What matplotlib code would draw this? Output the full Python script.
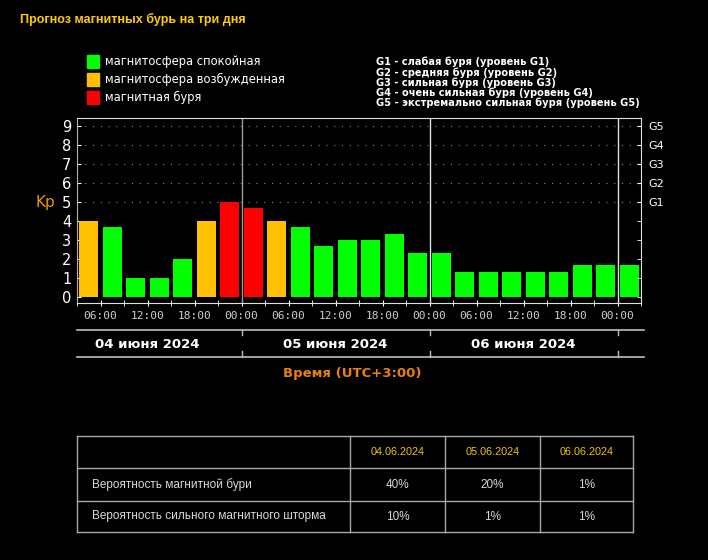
import matplotlib
matplotlib.use('Agg')
import matplotlib.pyplot as plt
from matplotlib.lines import Line2D
from matplotlib.patches import Rectangle
from matplotlib.transforms import blended_transform_factory

W, H = 708, 560

# --- данные ---
# начало 3-часовых интервалов (часы от 04.06 00:00, UTC+3)
start_hours = list(range(3, 75, 3))
kp = [4, 3.67, 1, 1, 2, 4, 5,
      4.67, 4, 3.67, 2.67, 3, 3, 3.33, 2.33,
      2.33, 1.33, 1.33, 1.33, 1.33, 1.33, 1.67, 1.67, 1.67]
# q - спокойная, a - возбужденная, s - буря
status = ['a', 'q', 'q', 'q', 'q', 'a', 's',
          's', 'a', 'q', 'q', 'q', 'q', 'q', 'q',
          'q', 'q', 'q', 'q', 'q', 'q', 'q', 'q', 'q']
status_colors = {'q': '#00ff00', 'a': '#ffc000', 's': '#ff0000'}
legend_labels = ['магнитосфера спокойная', 'магнитосфера возбужденная', 'магнитная буря']
legend_keys = ['q', 'a', 's']

g_levels = [5, 6, 7, 8, 9]
g_labels = ['G1', 'G2', 'G3', 'G4', 'G5']
g_desc = ['G1 - слабая буря (уровень G1)',
          'G2 - средняя буря (уровень G2)',
          'G3 - сильная буря (уровень G3)',
          'G4 - очень сильная буря (уровень G4)',
          'G5 - экстремально сильная буря (уровень G5)']

hour_ticks = list(range(6, 75, 6))
hour_labels = ['06:00', '12:00', '18:00', '00:00'] * 3
day_starts = [0, 24, 48]
day_labels = ['04 июня 2024', '05 июня 2024', '06 июня 2024']

table_dates = ['04.06.2024', '05.06.2024', '06.06.2024']
table_rows = ['Вероятность магнитной бури', 'Вероятность сильного магнитного шторма']
prob_storm = ['40%', '20%', '1%']
prob_strong = ['10%', '1%', '1%']


def fx(x):
    return x / W


def fy(y):
    return 1 - y / H


fig = plt.figure(figsize=(W / 100, H / 100), dpi=100, facecolor='black')

# оверлей в пикселях для надписей и таблицы
ov = fig.add_axes([0, 0, 1, 1], zorder=0)
ov.set_xlim(0, W)
ov.set_ylim(H, 0)
ov.axis('off')

# --- основной график ---
ax = fig.add_axes([fx(77), fy(303), (641 - 77) / W, (303 - 118) / H], zorder=2)
ax.set_facecolor('black')
ax.bar([h + 1.5 for h in start_hours], kp, width=2.45,
       color=[status_colors[s] for s in status], zorder=3)
ax.set_xlim(3, 75)
ax.set_ylim(-0.32, 9.42)

for lev in g_levels:
    ax.axhline(lev, color='#8a8a8a', lw=0.8, ls=(0, (1, 6)), zorder=1)
for d, c in zip(day_starts[1:] + [72], ['#9a9a9a', '#e0e0e0', '#e0e0e0']):
    ax.axvline(d, color=c, lw=1, zorder=2)

for side in ['top', 'bottom', 'right']:
    ax.spines[side].set_color('#e0e0e0')
ax.spines['left'].set_color('#b0b0b0')

ax.set_xticks(hour_ticks)
ax.set_xticklabels(hour_labels, family='DejaVu Sans Mono')
ax.set_xticks(start_hours + [75], minor=True)
ax.tick_params(axis='x', which='both', direction='inout', length=4, color='white',
               labelcolor='#cfcfcf', labelsize=8, pad=4)
ax.set_yticks(range(10))
ax.tick_params(axis='y', direction='in', length=3, color='white',
               labelcolor='white', labelsize=10.5, pad=4)

ax2 = ax.twinx()
ax2.set_ylim(ax.get_ylim())
ax2.set_yticks(g_levels)
ax2.set_yticklabels(g_labels)
ax2.set_yticks(range(0, 5), minor=True)
ax2.tick_params(axis='y', which='both', direction='in', length=3, color='white',
                labelcolor='white', labelsize=8, pad=5)
for side in ax2.spines:
    ax2.spines[side].set_visible(False)

fig.text(fx(45), fy(202), 'Kp', color='#e8950f', fontsize=11, ha='center', va='center')

# линии под осью с датами
tr = blended_transform_factory(ax.transData, fig.transFigure)
for yy in [330, 357]:
    fig.add_artist(Line2D([3, 75.4], [fy(yy), fy(yy)], transform=tr, color='#bdbdbd', lw=1.2))
for d in day_starts[1:] + [72]:
    fig.add_artist(Line2D([d, d], [fy(330), fy(335)], transform=tr, color='#bdbdbd', lw=1))
    fig.add_artist(Line2D([d, d], [fy(351), fy(357)], transform=tr, color='#bdbdbd', lw=1))
for d, lab in zip(day_starts, day_labels):
    fig.text(d + 12, fy(344), lab, transform=tr, color='white', fontsize=9.5,
             fontweight='bold', ha='center', va='center')

fig.text(fx(352), fy(374), 'Время (UTC+3:00)', color='#e8800c', fontsize=9.5,
         fontweight='bold', ha='center', va='center')

# заголовок и легенды
ov.text(20, 19, 'Прогноз магнитных бурь на три дня', color='#ffcc00', fontsize=9,
        family='Liberation Sans', fontweight='bold', va='center')
for i, (key, lab) in enumerate(zip(legend_keys, legend_labels)):
    yc = 61 + 18 * i
    ov.add_patch(Rectangle((87, yc - 6.5), 12, 13, color=status_colors[key]))
    ov.text(105, yc, lab, color='white', fontsize=8.3, va='center')
for i, lab in enumerate(g_desc):
    ov.text(376, 62 + 10.3 * i, lab, color='white', fontsize=7.1, fontweight='bold', va='center')

# таблица вероятностей
col_x = [77, 350, 445, 540, 633]
row_y = [436, 468, 501, 532]
for yy in row_y:
    ov.plot([col_x[0], col_x[-1]], [yy, yy], color='#a8a8a8', lw=1)
for xx in col_x:
    ov.plot([xx, xx], [row_y[0], row_y[-1]], color='#a8a8a8', lw=1)
col_c = [(col_x[i] + col_x[i + 1]) / 2 for i in range(1, 4)]
row_c = [(row_y[i] + row_y[i + 1]) / 2 for i in range(3)]
for xc, lab in zip(col_c, table_dates):
    ov.text(xc, row_c[0], lab, color='#f2c200', fontsize=7.8, family='Liberation Sans',
            ha='center', va='center')
for yc, lab, vals in zip(row_c[1:], table_rows, [prob_storm, prob_strong]):
    ov.text(92, yc, lab, color='#d8d8d8', fontsize=8.5, family='Liberation Sans', va='center')
    for xc, v in zip(col_c, vals):
        ov.text(xc, yc, v, color='#d8d8d8', fontsize=8.5, family='Liberation Sans',
                ha='center', va='center')

fig.savefig('out.png', dpi=100, facecolor='black')
